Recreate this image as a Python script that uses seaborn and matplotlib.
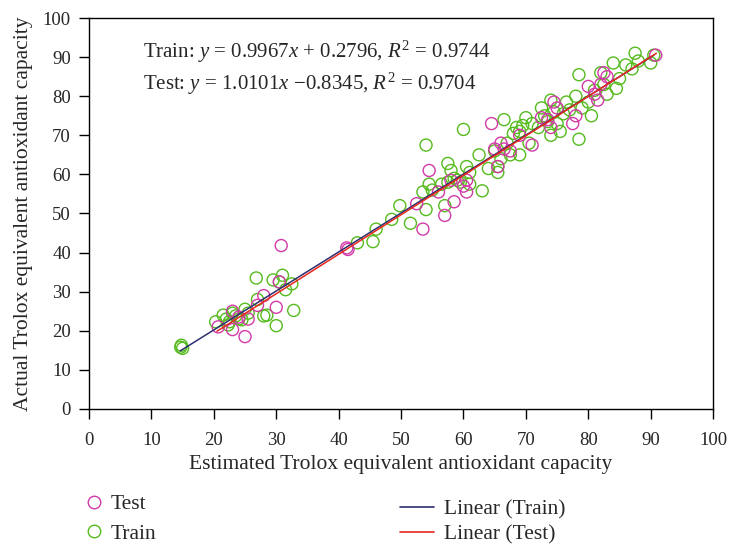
import numpy as np
import pandas as pd
import matplotlib
matplotlib.use("Agg")
import matplotlib.pyplot as plt
import seaborn as sns
from matplotlib.lines import Line2D

# Train points (estimated, actual)
train_est = [14.8, 15.0, 14.7, 20.3, 21.5, 22.0, 22.5, 23.0, 23.5, 24.0, 24.5, 25.5, 25.0, 22.3,
             26.8, 27.0, 28.0, 28.5, 29.5, 30.5, 31.0, 31.5, 32.5, 32.8, 30.0,
             43.0, 45.5, 46.0, 48.5, 49.8, 51.5,
             53.5, 54.0, 54.0, 54.5, 55.0, 56.5, 57.0, 57.5, 57.5, 58.0, 58.5, 59.0, 59.5,
             60.0, 60.5, 61.0, 61.0, 62.5, 63.0, 64.0, 65.0, 65.5, 65.5, 66.0,
             66.5, 67.0, 67.5, 68.0, 68.5, 69.0, 69.5, 69.0, 70.0, 70.5, 71.0, 72.0, 72.5,
             73.0, 73.5, 74.0, 74.0, 74.5, 75.0, 75.5, 76.0, 76.5, 77.0, 78.0, 78.5, 78.5,
             79.0, 80.0, 80.5, 81.0, 82.0, 82.5, 83.0, 84.0, 84.5, 85.0, 86.0, 87.0, 87.5,
             88.0, 90.0, 90.5]
train_act = [16.3, 15.5, 15.8, 22.3, 24.0, 23.0, 22.3, 24.5, 23.8, 23.0, 22.8, 24.5, 25.5, 21.5,
             33.5, 28.0, 23.8, 24.0, 33.0, 32.5, 34.2, 30.5, 32.0, 25.2, 21.3,
             42.5, 42.8, 46.0, 48.5, 52.0, 47.5,
             55.5, 51.0, 67.5, 57.5, 56.0, 57.5, 52.0, 62.8, 58.0, 61.0, 59.0, 58.5, 58.0,
             71.5, 62.0, 57.5, 60.5, 65.0, 55.8, 61.5, 66.0, 60.5, 62.0, 64.0,
             74.0, 68.0, 65.0, 70.5, 72.0, 71.0, 72.5, 65.0, 74.5, 68.0, 73.0, 72.0, 77.0,
             75.0, 73.5, 79.0, 70.0, 76.0, 73.0, 71.0, 75.5, 78.5, 76.5, 80.0, 85.5, 69.0,
             77.0, 78.5, 75.0, 81.5, 86.0, 83.0, 80.5, 88.5, 82.0, 84.5, 88.0, 87.0, 91.0,
             89.0, 88.5, 90.5]

# Test points (estimated, actual)
test_est = [20.7, 23.0, 23.0, 24.0, 25.0, 25.5, 27.0, 28.0, 30.0, 30.5, 30.8,
            41.3, 41.5,
            52.5, 53.5, 54.5, 56.0, 57.0, 58.0, 58.5, 60.0, 60.5, 60.5,
            64.5, 65.0, 65.5, 66.0, 66.5, 67.5, 69.0, 71.0, 72.5, 73.5, 74.5, 74.0, 75.0,
            77.5, 78.0, 80.0, 81.0, 81.5, 82.0, 82.5, 83.0, 90.8]
test_act = [21.0, 20.3, 25.0, 23.5, 18.5, 23.0, 26.5, 29.0, 26.0, 32.5, 41.8,
            41.2, 40.8,
            52.5, 46.0, 61.0, 55.5, 49.5, 58.5, 53.0, 57.0, 55.5, 58.5,
            73.0, 66.5, 62.0, 68.0, 66.5, 66.0, 70.0, 67.5, 74.5, 74.0, 78.5, 72.0, 77.0,
            73.0, 75.0, 82.5, 80.5, 79.0, 83.0, 86.0, 85.0, 90.5]

# fitted lines (from the equations in the chart)
train_coef = (0.9967, 0.2796)
test_coef = (1.0101, -0.8345)
train_xrange = [14.6, 90.5]
test_xrange = [20.5, 90.9]

green = "#55bb1e"
magenta = "#d23aa8"
navy = "#2e2f70"
red = "#e8291c"

sns.set_style("ticks")
plt.rcParams["font.family"] = ["Liberation Serif", "DejaVu Serif"]
plt.rcParams["mathtext.fontset"] = "custom"
plt.rcParams["mathtext.rm"] = "Liberation Serif"
plt.rcParams["mathtext.it"] = "Liberation Serif:italic"

df = pd.concat([
    pd.DataFrame({"est": train_est, "act": train_act, "set": "Train"}),
    pd.DataFrame({"est": test_est, "act": test_act, "set": "Test"}),
])

fig = plt.figure(figsize=(7.3, 5.46), dpi=100)
ax = fig.add_axes([0.1219, 0.251, 0.855, 0.716])

sns.scatterplot(data=df, x="est", y="act", hue="set",
                palette={"Train": green, "Test": magenta},
                marker="o", s=75, linewidth=1.0, legend=False, ax=ax)
# open circles with hue-coloured edges
coll = ax.collections[0]
coll.set_edgecolors([green if s == "Train" else magenta for s in df["set"]])
coll.set_facecolors("none")

xt = np.array(train_xrange)
ax.plot(xt, train_coef[0] * xt + train_coef[1], color=navy, lw=1.1)
xs = np.array(test_xrange)
ax.plot(xs, test_coef[0] * xs + test_coef[1], color=red, lw=1.1)

ax.set_xlim(0, 100)
ax.set_ylim(0, 100)
ax.set_xticks(range(0, 101, 10))
ax.set_yticks(range(0, 101, 10))
ax.tick_params(labelsize=13.5, length=7, width=1, color="black", direction="out")
ax.tick_params(axis="x", pad=9.5)
ax.tick_params(axis="y", pad=6)
for sp in ax.spines.values():
    sp.set_visible(True)
    sp.set_linewidth(1)
    sp.set_color("black")
ax.set_xlabel("Estimated Trolox equivalent antioxidant capacity", fontsize=15.5, labelpad=4.5)
ax.set_ylabel("Actual Trolox equivalent antioxidant capacity", fontsize=15.5, labelpad=7.4)

ax.text(8.7, 91.3, r"Train: $y$ = 0.9967$x$ + 0.2796, $R^2$ = 0.9744",
        fontsize=15, va="center")
ax.text(8.7, 83.1, r"Test: $y$ = 1.0101$x$ $-$0.8345, $R^2$ = 0.9704",
        fontsize=15, va="center")

pts = [
    Line2D([], [], ls="none", marker="o", mfc="none", mec=magenta, ms=9, mew=1.0, label="Test"),
    Line2D([], [], ls="none", marker="o", mfc="none", mec=green, ms=9, mew=1.0, label="Train"),
]
lns = [
    Line2D([], [], color=navy, lw=1.2, label="Linear (Train)"),
    Line2D([], [], color=red, lw=1.2, label="Linear (Test)"),
]
leg1 = fig.legend(handles=pts, loc="upper left", bbox_to_anchor=(83.5 / 730, 0.0945),
                  frameon=False, fontsize=15.5, handlelength=1.0, handletextpad=0.24,
                  labelspacing=0.42, borderpad=0, borderaxespad=0)
leg2 = fig.legend(handles=lns, loc="upper left", bbox_to_anchor=(400 / 730, 0.0845),
                  frameon=False, fontsize=15.5, handlelength=1.58, handletextpad=0.47,
                  labelspacing=0.2, borderpad=0, borderaxespad=0)

fig.savefig("out.png", dpi=100)
